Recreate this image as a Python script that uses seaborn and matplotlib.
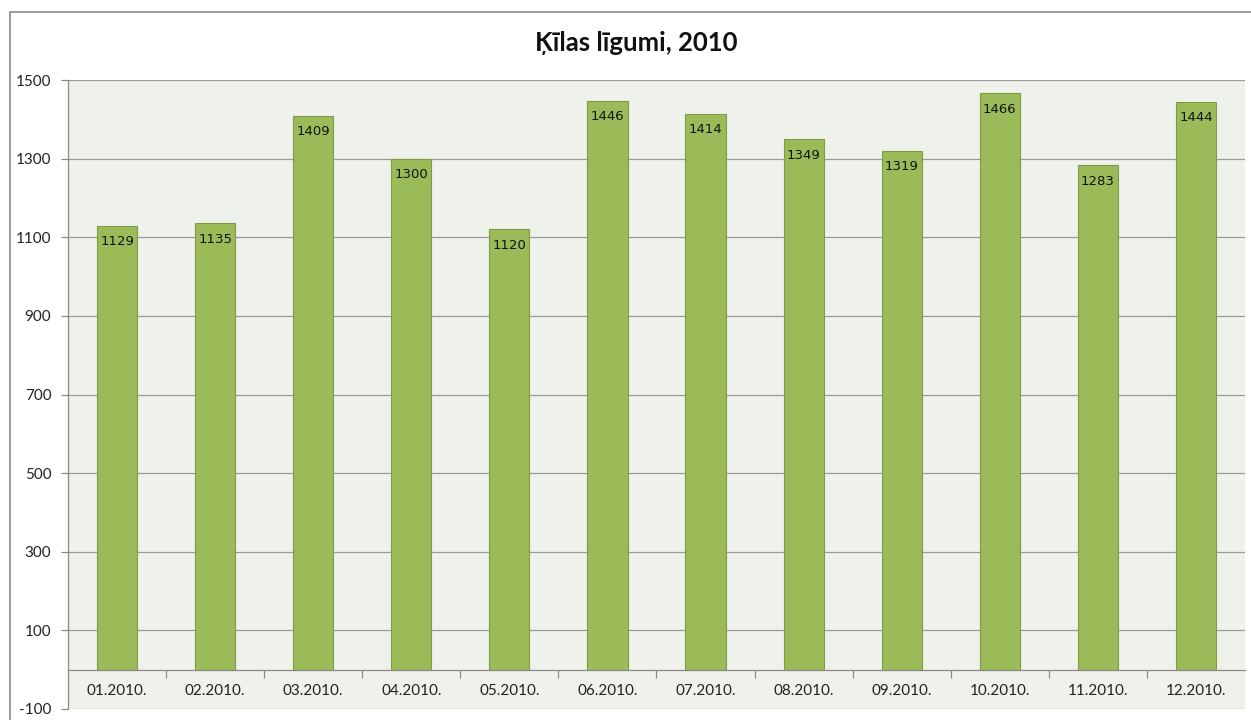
import matplotlib
matplotlib.use("Agg")
import matplotlib.pyplot as plt
import seaborn as sns
import pandas as pd
import numpy as np
from matplotlib.patches import Rectangle

months = ["01.2010.", "02.2010.", "03.2010.", "04.2010.", "05.2010.", "06.2010.",
          "07.2010.", "08.2010.", "09.2010.", "10.2010.", "11.2010.", "12.2010."]
values = [1129, 1135, 1409, 1300, 1120, 1446, 1414, 1349, 1319, 1466, 1283, 1444]
yticks = [-100, 100, 300, 500, 700, 900, 1100, 1300, 1500]
title = "Ķīlas līgumi, 2010"

sns.set_theme(style="white")
plt.rcParams['font.family'] = ['Lato', 'DejaVu Sans']

df = pd.DataFrame({"month": months, "value": values})

fig = plt.figure(figsize=(12.51, 7.2), dpi=100)
ax = fig.add_axes([68/1251, 1 - 709/720, (1245-68)/1251, (709-80)/720])
ax.set_facecolor("#EFF2EA")

sns.barplot(data=df, x="month", y="value", ax=ax, color="#9BBB59",
            width=0.41, edgecolor="#7E9C45", linewidth=0.8, saturation=1, zorder=3)

ax.set_ylim(-100, 1500)
ax.set_xlim(-0.5, len(months) - 0.5)
ax.set_yticks(yticks)
ax.set_yticklabels([str(t) for t in yticks], fontsize=11, color="#222222")
ax.yaxis.grid(True, color="#9A9A9A", linewidth=0.9, zorder=0)
ax.set_axisbelow(True)
ax.tick_params(axis='y', which='major', direction='out', length=5, width=0.9,
               color="#8A8A8A", pad=7, left=True)

# x axis at zero
for s in ['top', 'right']:
    ax.spines[s].set_visible(False)
ax.spines['left'].set_color("#8A8A8A")
ax.spines['left'].set_linewidth(0.9)
ax.spines['bottom'].set_position(('data', 0))
ax.spines['bottom'].set_color("#8A8A8A")
ax.spines['bottom'].set_linewidth(0.9)
ax.spines['bottom'].set_zorder(4)
ax.set_xticks(range(len(months)))
ax.set_xticklabels(months, fontsize=11, color="#222222")
ax.tick_params(axis='x', which='major', length=0, pad=10, bottom=True)
ax.set_xticks(np.arange(0.5, len(months) - 0.5, 1), minor=True)
ax.tick_params(axis='x', which='minor', direction='out', length=6, width=0.9,
               color="#8A8A8A", bottom=True)
ax.set_xlabel("")
ax.set_ylabel("")

for cont in ax.containers:
    ax.bar_label(cont, labels=[str(v) for v in values], padding=-16,
                 fontsize=9.5, color="#111111", family=['DejaVu Sans'], zorder=5)

fig.text(636/1251, 1 - 43/720, title, ha='center', va='center',
         fontsize=18.5, fontweight='bold', color="#111111")

fig.patches.append(Rectangle((10/1251, -0.1), 1.2, 1.1 - 12/720 + 0.0,
                             transform=fig.transFigure, fill=False,
                             edgecolor="#8A8A8A", linewidth=1.2, zorder=0))

fig.savefig("out.png", dpi=100)
